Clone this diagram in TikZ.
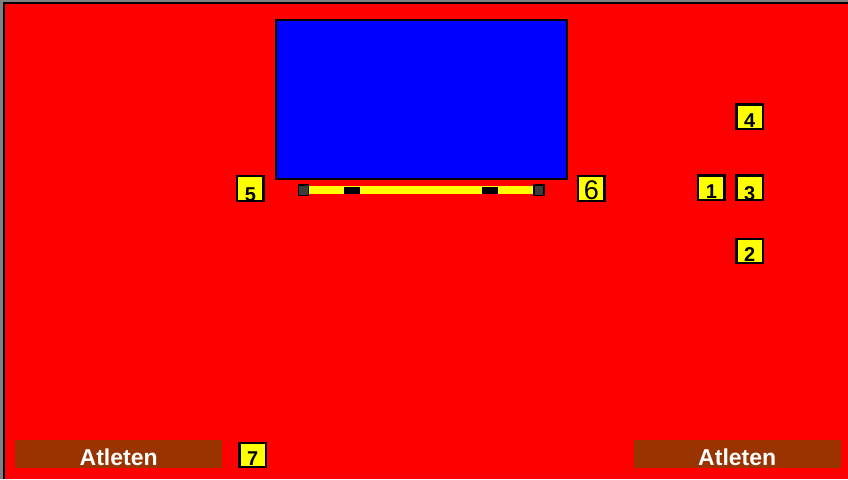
\documentclass[tikz,border=0pt]{standalone}
\usepackage{fontspec}
\setmainfont{Liberation Sans}
\definecolor{bgred}{HTML}{FF0000}
\definecolor{scrblue}{HTML}{0000FF}
\definecolor{boxyel}{HTML}{FFFF00}
\definecolor{brown}{HTML}{993300}
\definecolor{darkgr}{HTML}{3C3C3C}
\definecolor{edgegr}{HTML}{808080}
\tikzset{
  numbox/.style={draw=black, line width=2.2pt, fill=boxyel, inner sep=0pt, anchor=north west,
                 minimum width=26.3pt, minimum height=24.6pt},
  digit/.style={anchor=base, inner sep=0pt, font=\fontsize{20}{20}\selectfont\bfseries},
  bigdigit/.style={anchor=base, inner sep=0pt, font=\fontsize{27}{27}\selectfont},
  atlbox/.style={fill=brown, inner sep=0pt, anchor=north west},
  atltext/.style={anchor=base, inner sep=0pt, text=white, font=\fontsize{23}{23}\selectfont\bfseries},
  endcap/.style={draw=black, line width=1.4pt, fill=darkgr, inner sep=0pt, anchor=north west},
  blackbit/.style={fill=black, inner sep=0pt, anchor=north west}
}
\begin{document}
\begin{tikzpicture}[x=1pt,y=-1pt]
\useasboundingbox (0,0) rectangle (848,479);
% background and frame
\fill[edgegr] (0,0) rectangle (848,479);
\fill[bgred] (3,2.5) rectangle (848,479);
\draw[black, line width=2pt] (3.8,479) -- (3.8,3.3) -- (848,3.3);
% screen
\node[draw=black, line width=2.2pt, fill=scrblue, inner sep=0pt, anchor=north west,
      minimum width=291pt, minimum height=159pt] (screen) at (275.1,19.1) {};
% bar
\node[fill=boxyel, inner sep=0pt, anchor=north west, minimum width=226pt, minimum height=8pt] (bar) at (307,185.5) {};
\node[endcap, minimum width=10pt, minimum height=10.5pt] (capL) at (297.5,184.2) {};
\node[endcap, minimum width=10pt, minimum height=10.5pt] (capR) at (533.3,184.2) {};
\node[blackbit, minimum width=16pt, minimum height=7.5pt] (bitL) at (343.3,186.5) {};
\node[blackbit, minimum width=16.5pt, minimum height=7.5pt] (bitR) at (481.7,186.5) {};
% numbered boxes (outer edge = position - 1.1)
\node[numbox] (b5) at (236.1,175.1) {};
\node[numbox] (b6) at (577.1,175.1) {};
\node[numbox] (b4) at (735.4,103.4) {};
\node[numbox] (b1) at (697.1,174.4) {};
\node[numbox] (b3) at (735.4,174.4) {};
\node[numbox] (b2) at (735.4,237.6) {};
\node[numbox, minimum height=23.5pt] (b7) at (238.4,442.1) {};
\begin{scope}
\clip (b5.north west) rectangle (b5.south east);
\node[digit] (t5) at ([yshift=0pt]b5.south) {5};
\end{scope}
\node[bigdigit] (t6) at ([yshift=2pt]b6.south) {6};
\node[digit] (t4) at ([yshift=3pt]b4.south) {4};
\node[digit] (t1) at ([yshift=3pt]b1.south) {1};
\begin{scope}
\clip (b3.north west) rectangle (b3.south east);
\node[digit] (t3) at ([yshift=1pt]b3.south) {3};
\end{scope}
\node[digit] (t2) at ([yshift=3pt]b2.south) {2};
\node[digit] (t7) at ([yshift=2.5pt]b7.south) {7};
% Atleten bars
\node[atlbox, minimum width=207pt, minimum height=28pt] (atlL) at (15,440) {};
\node[atlbox, minimum width=207pt, minimum height=28pt] (atlR) at (633.5,440) {};
\node[atltext] (atlLt) at ([yshift=3pt]atlL.south) {Atleten};
\node[atltext] (atlRt) at ([yshift=3pt]atlR.south) {Atleten};
\end{tikzpicture}
\end{document}
